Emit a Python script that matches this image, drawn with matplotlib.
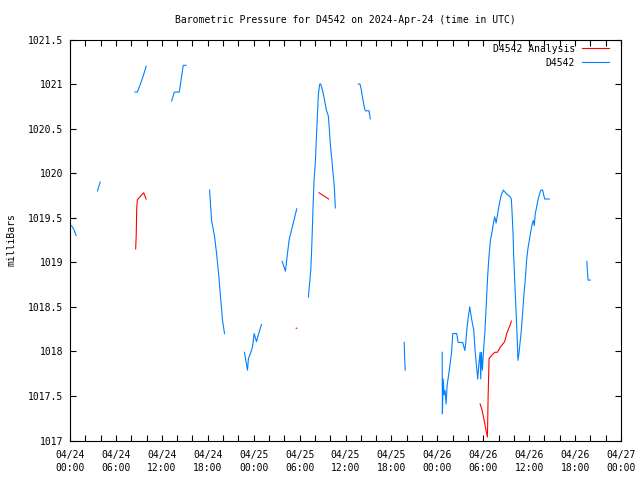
import numpy as np
import matplotlib
matplotlib.use("Agg")
import matplotlib.pyplot as plt
from matplotlib.ticker import MultipleLocator, FuncFormatter

nan = np.nan

# Hours since 2024-04-24 00:00 UTC; NaN separates gaps
blue_hours = [
    0.2, 0.5, 0.8, nan,
    3.59, 3.94, nan,
    8.5, 8.8, 9.2, 9.6, 9.95, nan,
    13.28, 13.63, 14.28, 14.8, 15.16, nan,
    18.24, 18.5, 18.89, 19.15, 19.41, 19.67, 19.93, 20.19, nan,
    22.8, 23.19, 23.32, 23.63, 23.85, 24.06, 24.37, 24.59, 25.02, nan,
    27.72, 28.15, 28.28, 28.63, 29.06, 29.5, 29.63, nan,
    31.15, 31.46, 31.59, 31.76, 31.89, 32.06, 32.19, 32.32, 32.45, 32.63, 32.76,
    32.97, 33.24, 33.5, 33.76, 33.89, 34.02, 34.2, 34.37, 34.54, 34.67, nan,
    37.67, 37.89, 38.06, 38.24, 38.5, 38.63, 39.07, 39.24, nan,
    43.67, 43.72, 43.8, nan,
    48.63, 48.66, 48.76, 48.89, 49.02, 49.15, 49.28, 49.5, 49.67, 49.85, 50.02,
    50.54, 50.72, 51.32, 51.59, 51.72, 51.85, 52.02, 52.24, 52.46, 52.76, 52.93,
    53.11, 53.28, 53.41, 53.59, 53.67, 53.76, 53.89, 54.02, 54.2, 54.37, 54.55,
    54.72, 54.94, 55.15, 55.33, 55.5, 55.68, 55.89, 56.11, 56.37, 56.63, 56.9,
    57.15, 57.46, 57.67, 57.76, 57.89, 57.98, 58.11, 58.24, 58.41, 58.54, 58.67,
    58.8, 58.98, 59.15, 59.33, 59.5, 59.67, 59.85, 60.02, 60.2, 60.37, 60.54,
    60.67, 60.8, 60.98, 61.15, 61.33, 61.54, 61.76, 62.02, 62.63, nan,
    67.54, 67.6, 67.7, 67.98,
]
blue_mb = [
    1019.41, 1019.37, 1019.30, nan,
    1019.80, 1019.90, nan,
    1020.91, 1020.91, 1021.0, 1021.1, 1021.2, nan,
    1020.81, 1020.91, 1020.91, 1021.21, 1021.21, nan,
    1019.81, 1019.47, 1019.29, 1019.1, 1018.88, 1018.61, 1018.35, 1018.20, nan,
    1017.99, 1017.79, 1017.92, 1017.99, 1018.05, 1018.2, 1018.11, 1018.18, 1018.30, nan,
    1019.01, 1018.90, 1019.0, 1019.25, 1019.40, 1019.55, 1019.6, nan,
    1018.61, 1018.91, 1019.17, 1019.62, 1019.92, 1020.13, 1020.38, 1020.64, 1020.88, 1021.0, 1021.0,
    1020.94, 1020.83, 1020.71, 1020.64, 1020.49, 1020.32, 1020.17, 1020.0, 1019.85, 1019.61, nan,
    1021.0, 1021.0, 1020.94, 1020.84, 1020.72, 1020.70, 1020.70, 1020.61, nan,
    1018.10, 1017.95, 1017.79, nan,
    1017.99, 1017.30, 1017.69, 1017.51, 1017.56, 1017.41, 1017.62, 1017.75, 1017.86, 1017.98, 1018.20,
    1018.20, 1018.10, 1018.10, 1018.01, 1018.10, 1018.24, 1018.37, 1018.50, 1018.37, 1018.24, 1018.01,
    1017.84, 1017.69, 1017.84, 1017.99, 1017.69, 1017.99, 1017.79, 1017.99, 1018.20, 1018.50, 1018.80,
    1019.04, 1019.25, 1019.34, 1019.44, 1019.51, 1019.44, 1019.55, 1019.66, 1019.76, 1019.81, 1019.78,
    1019.76, 1019.74, 1019.71, 1019.57, 1019.33, 1019.06, 1018.80, 1018.54, 1018.20, 1017.90, 1017.98,
    1018.09, 1018.24, 1018.44, 1018.65, 1018.82, 1019.03, 1019.16, 1019.25, 1019.34, 1019.42, 1019.47,
    1019.41, 1019.55, 1019.62, 1019.70, 1019.76, 1019.81, 1019.81, 1019.71, 1019.71, nan,
    1019.01, 1018.91, 1018.80, 1018.80,
]

red_hours = [
    8.58, 8.65, 8.72, 8.8, 9.1, 9.4, 9.63, 9.94, nan,
    29.56, 29.64, nan,
    32.54, 33.8, nan,
    53.59, 53.85, 54.11, 54.37, 54.55, 54.63, 54.76, 55.15, 55.5, 55.85, 56.24,
    56.63, 56.8, 57.07, 57.33, 57.5, 57.67,
]
red_mb = [
    1019.15, 1019.3, 1019.6, 1019.7, 1019.73, 1019.76, 1019.78, 1019.71, nan,
    1018.26, 1018.26, nan,
    1019.78, 1019.71, nan,
    1017.41, 1017.34, 1017.23, 1017.11, 1017.04, 1017.47, 1017.92, 1017.96, 1017.99, 1017.99, 1018.05,
    1018.09, 1018.11, 1018.20, 1018.26, 1018.29, 1018.34,
]

tick_hours = list(range(0, 73, 6))
tick_labels = ["04/24\n00:00", "04/24\n06:00", "04/24\n12:00", "04/24\n18:00",
               "04/25\n00:00", "04/25\n06:00", "04/25\n12:00", "04/25\n18:00",
               "04/26\n00:00", "04/26\n06:00", "04/26\n12:00", "04/26\n18:00",
               "04/27\n00:00"]

FONT = "DejaVu Sans Mono"
FS = 7

fig = plt.figure(figsize=(6.4, 4.8), dpi=100)
ax = fig.add_axes([70 / 640, 1 - 440.5 / 480, 551 / 640, 401 / 480])

ax.plot(red_hours, red_mb, color="#ff0000", lw=0.8, label="D4542 Analysis")
ax.plot(blue_hours, blue_mb, color="#0080ff", lw=0.8, label="D4542")

ax.set_xlim(0, 72)
ax.set_ylim(1017, 1021.5)
ax.set_xticks(tick_hours)
ax.set_xticklabels(tick_labels, fontfamily=FONT, fontsize=FS, linespacing=1.4)
ax.xaxis.set_minor_locator(MultipleLocator(2))
ax.yaxis.set_major_locator(MultipleLocator(0.5))
ax.yaxis.set_major_formatter(FuncFormatter(lambda v, p: "%g" % v))
for lab in ax.get_yticklabels():
    lab.set_fontfamily(FONT)
    lab.set_fontsize(FS)
ax.tick_params(which="both", direction="in", top=True, right=True,
               length=4, width=0.8, color="black")
ax.tick_params(axis="x", which="major", pad=7)
ax.tick_params(axis="y", which="major", pad=5)
for s in ax.spines.values():
    s.set_linewidth(0.8)

ax.set_ylabel("milliBars", fontfamily=FONT, fontsize=FS, labelpad=8)
fig.text((70 + 621) / 2 / 640, 1 - 20 / 480,
         "Barometric Pressure for D4542 on 2024-Apr-24 (time in UTC)",
         ha="center", va="center", fontfamily=FONT, fontsize=FS)

leg = ax.legend(loc="upper right", frameon=False, markerfirst=False,
                prop={"family": FONT, "size": FS}, handlelength=2.8,
                handletextpad=0.7, labelspacing=0.38, borderaxespad=0,
                borderpad=0.4,
                bbox_to_anchor=(613 / 640, 1 - 40 / 480),
                bbox_transform=fig.transFigure)
for t in leg.get_texts():
    t.set_ha("right")

fig.savefig("out.png", dpi=100)
